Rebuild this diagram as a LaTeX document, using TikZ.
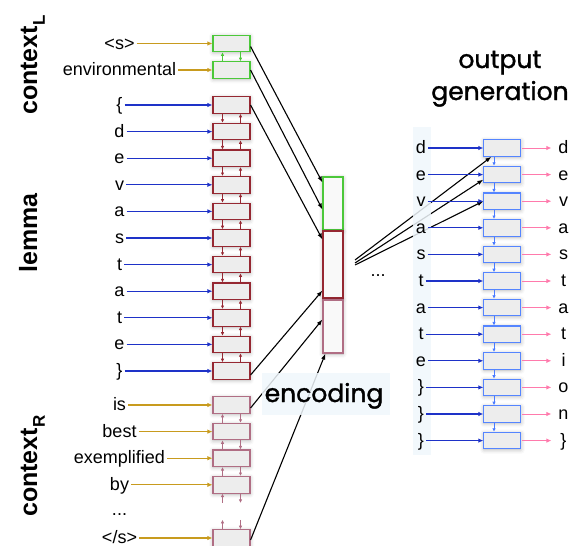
\documentclass[tikz,border=0pt]{standalone}
\usepackage{fontspec}
\setmainfont{Liberation Sans}
\newfontfamily\titlefont{Poppins}
\usetikzlibrary{arrows.meta,shadows.blur,calc}
\definecolor{cgreen}{HTML}{4CC83A}
\definecolor{cred}{HTML}{962832}
\definecolor{cmauve}{HTML}{B06E84}
\definecolor{cblue}{HTML}{1E32C8}
\definecolor{cgold}{HTML}{C89B1E}
\definecolor{cpink}{HTML}{FF7AAC}
\definecolor{coutb}{HTML}{5585FF}
\definecolor{cvarr}{HTML}{4A7BFF}
\definecolor{cstrip}{HTML}{F0F7FC}
\definecolor{cboxfill}{HTML}{EDEDED}
\newcommand\inrow[5]{%
  \node[cell,#5] (#1) at (231.5,#3) {};
  \node[lab] (#1l) at (119.5,#3+5.5) {#2};
  \draw[harr,#4] (#1l.east |- #1.west) -- (#1.west);
}
\newcommand\lurd[3]{%
  \draw[va,#3] ([xshift=-9pt]#2.north) -- ([xshift=-9pt]#1.south);
  \draw[va,#3] ([xshift=9pt]#1.south) -- ([xshift=9pt]#2.north);
}
\newcommand\ldru[3]{%
  \draw[va,#3] ([xshift=-9pt]#1.south) -- ([xshift=-9pt]#2.north);
  \draw[va,#3] ([xshift=9pt]#2.north) -- ([xshift=9pt]#1.south);
}
\begin{document}
\begin{tikzpicture}[x=1pt,y=-1pt,
  cell/.style={draw,line width=1.1pt,fill=cboxfill,minimum width=37pt,minimum height=16.5pt,inner sep=0pt,
     blur shadow={shadow xshift=0pt,shadow yshift=-1pt,shadow blur radius=4pt,shadow opacity=30}},
  ghost/.style={minimum width=37pt,minimum height=16.5pt,inner sep=0pt},
  lab/.style={font=\fontsize{18}{20}\selectfont,inner sep=1pt,anchor=base},
  harr/.style={line width=1.2pt,-{Latex[length=5pt,width=4.5pt]},shorten <=1pt},
  va/.style={line width=0.9pt,-{Latex[length=3.5pt,width=3.5pt]}},
  barr/.style={line width=1.1pt,black,-{Latex[length=6pt,width=4.5pt]}},
  enc/.style={draw,line width=1.1pt,fill=gray!5,minimum width=20pt,inner sep=0pt,
     blur shadow={shadow xshift=0pt,shadow yshift=-1pt,shadow blur radius=4pt,shadow opacity=30}},
  title/.style={font=\fontsize{25}{30}\titlefont\addfontfeature{FakeBold=1.3},inner sep=0pt,anchor=base},
  side/.style={font=\bfseries\fontsize{25}{30}\selectfont,rotate=90,inner sep=0pt}
]
\useasboundingbox (0,0) rectangle (571,546);

% ---- side labels
\node[side,anchor=base west] (sl) at (37,115) {context\raisebox{-8pt}{\fontsize{17}{17}\selectfont L}};
\node[side,anchor=base] (sm) at (37,233) {lemma};
\node[side,anchor=base west] (sr) at (37,517) {context\raisebox{-8pt}{\fontsize{17}{17}\selectfont R}};

% ---- left column: context L
\inrow{c1}{<s>}{43.5}{cgold}{draw=cgreen}
\inrow{c2}{environmental}{70}{cgold}{draw=cgreen}
\lurd{c1}{c2}{cgreen}

% ---- lemma
\inrow{m0}{\{}{105}{cblue}{draw=cred}
\inrow{m1}{d}{131.6}{cblue}{draw=cred}
\inrow{m2}{e}{158.2}{cblue}{draw=cred}
\inrow{m3}{v}{184.8}{cblue}{draw=cred}
\inrow{m4}{a}{211.4}{cblue}{draw=cred}
\inrow{m5}{s}{238}{cblue}{draw=cred}
\inrow{m6}{t}{264.6}{cblue}{draw=cred}
\inrow{m7}{a}{291.2}{cblue}{draw=cred}
\inrow{m8}{t}{317.8}{cblue}{draw=cred}
\inrow{m9}{e}{344.4}{cblue}{draw=cred}
\inrow{m10}{\}}{371}{cblue}{draw=cred}
\ldru{m0}{m1}{cred}\ldru{m1}{m2}{cred}\ldru{m2}{m3}{cred}\ldru{m3}{m4}{cred}
\ldru{m4}{m5}{cred}\ldru{m5}{m6}{cred}\ldru{m6}{m7}{cred}\ldru{m7}{m8}{cred}
\ldru{m8}{m9}{cred}\ldru{m9}{m10}{cred}

% ---- context R
\inrow{r1}{is}{405}{cgold}{draw=cmauve}
\inrow{r2}{best}{431.6}{cgold}{draw=cmauve}
\inrow{r3}{exemplified}{458.2}{cgold}{draw=cmauve}
\inrow{r4}{by}{484.8}{cgold}{draw=cmauve}
\node[ghost] (r5) at (231.5,511.4) {};
\node[lab] (r5l) at (119.5,515) {...};
\inrow{r6}{</s>}{538}{cgold}{draw=cmauve}
\lurd{r1}{r2}{cmauve}\lurd{r2}{r3}{cmauve}\lurd{r3}{r4}{cmauve}
\lurd{r4}{r5}{cmauve}\lurd{r5}{r6}{cmauve}

% ---- encoding column
\node[enc,draw=cgreen,minimum height=53pt] (eg) at (333,203.5) {};
\node[enc,draw=cred,minimum height=67pt] (er) at (333,264.5) {};
\node[enc,draw=cmauve,minimum height=53pt] (ep) at (333,326.5) {};

\draw[barr] ([yshift=-3pt]c1.east) -- ($(eg.north west)+(0,6)$);
\draw[barr] (c2.east) -- ($(eg.north west)+(0,33)$);
\draw[barr] (m0.east) -- ($(er.north west)+(0,9)$);
\draw[barr] ([yshift=-4pt]m10.east) -- ($(er.south west)+(0,-8)$);
\draw[barr] ([yshift=-3pt]r1.east) -- ($(ep.north west)+(0,20)$);
\draw[barr] ([yshift=-2pt]r6.east) -- ($(ep.south west)+(3,0)$);

\fill[cstrip,opacity=0.85] (262,373) rectangle (390,415);
\node[title] (enctxt) at (324,402) {encoding};

\node[lab] (dots) at (378,276) {...};

% ---- output column
\node[title] (t1) at (500,68) {output};
\node[title] (t2) at (500,100) {generation};

\foreach \i in {0,...,11}{
  \node[cell,draw=coutb] (o\i) at (502.4,148+26.6*\i) {};
}
\foreach \i in {0,...,10}{
  \pgfmathtruncatemacro\j{\i+1}
  \draw[va,cvarr] ([xshift=-8.4pt]o\i.south) -- ([xshift=-8.4pt]o\j.north);
}
\coordinate (src) at (355,263);
\draw[barr] ($(src)+(0,-3)$) -- ($(o0.south west)+(8,0)$);
\draw[barr] (src) -- ($(o1.west)+(0,5)$);
\draw[barr] ($(src)+(0,2)$) -- (o2.west);

\fill[cstrip,opacity=0.85] (413,127) rectangle (431,455);

\foreach \i/\a/\b in {0/d/d,1/e/e,2/v/v,3/a/a,4/s/s,5/t/t,6/a/a,7/t/t,8/e/i,9/\}/o,10/\}/n,11/\}/\}}{
  \node[lab] (il\i) at (421,148+26.6*\i+5.5) {\a};
  \draw[harr,cblue] (il\i.east |- o\i.west) -- (o\i.west);
  \coordinate (pe\i) at ($(o\i.east)+(30,0)$);
  \draw[harr,cpink,line width=1pt] (o\i.east) -- (pe\i);
  \node[lab] (ol\i) at (563.5,148+26.6*\i+5.5) {\b};
}
\end{tikzpicture}
\end{document}
